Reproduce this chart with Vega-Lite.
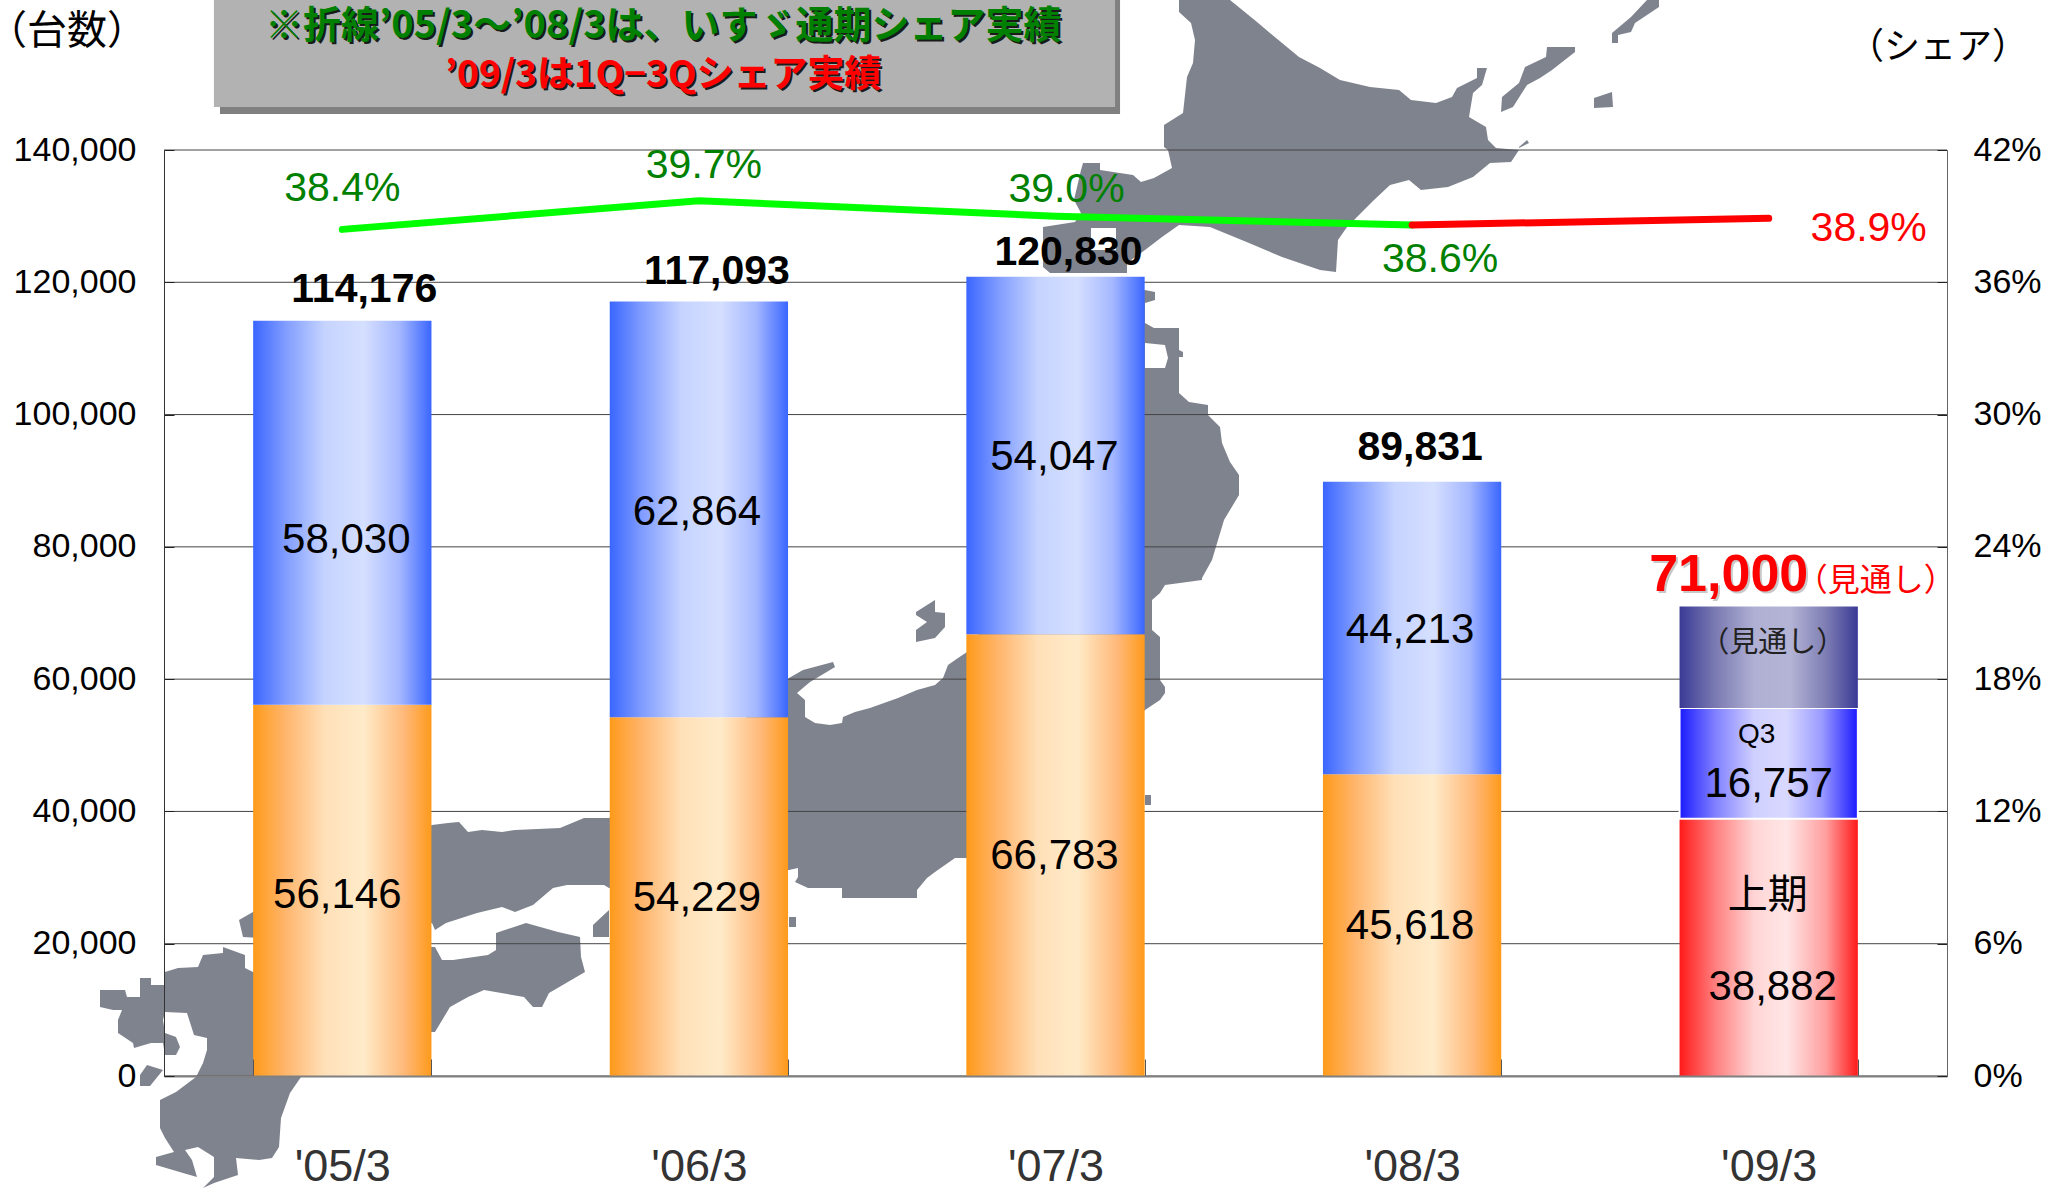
{
"$schema":"https://vega.github.io/schema/vega-lite/v6.json",
"width":1783,"height":926,"autosize":{"type":"none"},
"padding":{"left":164,"top":150,"right":115,"bottom":113},
"background":"#ffffff",
"config":{"view":{"stroke":null}},
"datasets":{
"rows":[
{"fy":2005,"period":"'05/3","segment":"上期","value":56146,"base":0,"top":56146},
{"fy":2005,"period":"'05/3","segment":"下期","value":58030,"base":56146,"top":114176},
{"fy":2005,"period":"'05/3","segment":"合計","value":114176,"base":0,"top":114176},
{"fy":2006,"period":"'06/3","segment":"上期","value":54229,"base":0,"top":54229},
{"fy":2006,"period":"'06/3","segment":"下期","value":62864,"base":54229,"top":117093},
{"fy":2006,"period":"'06/3","segment":"合計","value":117093,"base":0,"top":117093},
{"fy":2007,"period":"'07/3","segment":"上期","value":66783,"base":0,"top":66783},
{"fy":2007,"period":"'07/3","segment":"下期","value":54047,"base":66783,"top":120830},
{"fy":2007,"period":"'07/3","segment":"合計","value":120830,"base":0,"top":120830},
{"fy":2008,"period":"'08/3","segment":"上期","value":45618,"base":0,"top":45618},
{"fy":2008,"period":"'08/3","segment":"下期","value":44213,"base":45618,"top":89831},
{"fy":2008,"period":"'08/3","segment":"合計","value":89831,"base":0,"top":89831},
{"fy":2009,"period":"'09/3","segment":"上期09","value":38882,"base":0,"top":38882},
{"fy":2009,"period":"'09/3","segment":"Q3","value":16757,"base":38882,"top":55639},
{"fy":2009,"period":"'09/3","segment":"見通し","value":15361,"base":55639,"top":71000},
{"fy":2009,"period":"'09/3","segment":"合計","value":71000,"base":0,"top":71000}
],
"share":[
{"period":"'05/3","series":"通期","share":0.384},
{"period":"'06/3","series":"通期","share":0.397},
{"period":"'07/3","series":"通期","share":0.390},
{"period":"'08/3","series":"通期","share":0.386},
{"period":"'08/3","series":"1Q-3Q","share":0.386},
{"period":"'09/3","series":"1Q-3Q","share":0.389}
],
"grid":[{"v":0},{"v":20000},{"v":40000},{"v":60000},{"v":80000},{"v":100000},{"v":120000},{"v":140000}]
},
"layer":[
{"data":{"values":[
{"type":"Feature","properties":{"name":"北海道"},"geometry":{"type":"Polygon","coordinates":[[[1179,0],[1230,0],[1257,22],[1276,38],[1299,57],[1320,68],[1340,80],[1370,87],[1399,90],[1411,100],[1436,103],[1452,97],[1457,88],[1477,78],[1477,68],[1487,68],[1482,85],[1473,93],[1469,117],[1486,127],[1488,140],[1496,148],[1519,150],[1511,162],[1490,163],[1473,177],[1448,187],[1421,190],[1409,180],[1390,185],[1374,200],[1357,217],[1347,227],[1338,240],[1336,272],[1320,270],[1282,257],[1249,243],[1210,227],[1179,225],[1162,237],[1145,250],[1127,263],[1127,273],[1050,273],[1043,267],[1043,227],[1075,222],[1081,213],[1074,200],[1081,170],[1083,163],[1100,163],[1100,170],[1133,175],[1141,182],[1154,178],[1172,168],[1168,150],[1164,147],[1164,125],[1183,113],[1187,77],[1193,63],[1195,40],[1191,23],[1179,12],[1179,0]],[[1091,228],[1091,250],[1116,250],[1116,228],[1091,228]]]}},
{"type":"Feature","properties":{"name":"本州"},"geometry":{"type":"Polygon","coordinates":[[[1100,300],[1145,290],[1155,292],[1155,300],[1145,303],[1145,323],[1154,328],[1179,328],[1179,350],[1183,352],[1183,357],[1179,357],[1179,393],[1189,402],[1208,405],[1208,415],[1220,427],[1222,443],[1230,462],[1239,475],[1239,495],[1230,510],[1224,520],[1212,560],[1202,578],[1202,580],[1165,585],[1160,593],[1152,600],[1152,630],[1160,637],[1160,680],[1165,687],[1165,693],[1160,700],[1145,710],[1100,770],[967,858],[955,858],[935,872],[927,878],[917,890],[917,898],[842,898],[842,888],[808,888],[795,882],[798,877],[798,868],[789,870],[700,880],[609,888],[604,885],[567,885],[553,888],[533,905],[515,912],[502,907],[477,913],[446,923],[435,930],[432,923],[300,940],[243,937],[239,920],[253,912],[320,860],[432,825],[448,823],[459,822],[468,832],[482,830],[502,832],[515,830],[560,828],[584,818],[609,818],[700,760],[789,678],[803,670],[833,662],[835,667],[810,682],[797,693],[805,700],[805,717],[815,723],[830,725],[842,723],[843,717],[855,712],[870,708],[898,698],[917,690],[935,685],[943,678],[948,665],[958,658],[967,652],[1000,600],[1050,450],[1060,350],[1100,300]],[[1145,343],[1145,368],[1165,368],[1168,358],[1165,345],[1145,343]]]}},
{"type":"Feature","properties":{"name":"四国"},"geometry":{"type":"Polygon","coordinates":[[[496,933],[526,923],[558,932],[580,937],[581,957],[585,972],[549,993],[542,1007],[533,1007],[524,997],[484,990],[468,997],[450,1007],[435,1032],[420,1032],[420,947],[435,947],[442,960],[453,960],[488,955],[496,950],[496,933]]]}},
{"type":"Feature","properties":{"name":"九州"},"geometry":{"type":"Polygon","coordinates":[[[223,947],[245,955],[245,968],[253,972],[320,1000],[301,1077],[290,1093],[281,1118],[279,1147],[272,1158],[259,1160],[236,1158],[238,1175],[214,1183],[203,1188],[214,1177],[214,1157],[198,1147],[185,1150],[192,1160],[197,1177],[183,1173],[156,1165],[156,1157],[174,1152],[165,1138],[160,1128],[160,1100],[176,1092],[196,1077],[203,1063],[207,1050],[207,1038],[194,1035],[187,1013],[165,1012],[163,1020],[165,1033],[176,1037],[180,1047],[176,1055],[165,1055],[163,1043],[151,1043],[134,1048],[133,1043],[118,1033],[118,1020],[122,1010],[113,1010],[100,1007],[100,990],[125,990],[127,997],[140,997],[140,978],[151,978],[151,985],[165,985],[165,972],[178,968],[198,967],[203,955],[223,953],[223,947]]]}},
{"type":"Feature","properties":{"name":"天草"},"geometry":{"type":"Polygon","coordinates":[[[147,1065],[163,1070],[150,1086],[140,1086],[140,1075],[147,1065]]]}},
{"type":"Feature","properties":{"name":"淡路"},"geometry":{"type":"Polygon","coordinates":[[[593,925],[609,910],[609,937],[593,937],[593,925]]]}},
{"type":"Feature","properties":{"name":"佐渡"},"geometry":{"type":"Polygon","coordinates":[[[916,612],[935,600],[935,612],[945,613],[945,627],[935,638],[916,642],[916,630],[927,622],[916,615],[916,612]]]}},
{"type":"Feature","properties":{"name":"大島"},"geometry":{"type":"Polygon","coordinates":[[[1145,795],[1151,795],[1151,805],[1145,805],[1145,795]]]}},
{"type":"Feature","properties":{"name":"小島"},"geometry":{"type":"Polygon","coordinates":[[[789,917],[796,917],[796,927],[789,927],[789,917]]]}},
{"type":"Feature","properties":{"name":"国後"},"geometry":{"type":"Polygon","coordinates":[[[1502,97],[1519,83],[1525,67],[1546,57],[1547,47],[1575,47],[1575,52],[1552,70],[1540,78],[1527,85],[1513,107],[1501,112],[1502,97]]]}},
{"type":"Feature","properties":{"name":"色丹"},"geometry":{"type":"Polygon","coordinates":[[[1594,98],[1612,92],[1613,107],[1594,108],[1594,98]]]}},
{"type":"Feature","properties":{"name":"択捉"},"geometry":{"type":"Polygon","coordinates":[[[1612,33],[1631,17],[1647,0],[1659,0],[1659,7],[1635,23],[1631,32],[1618,35],[1618,43],[1612,43],[1612,33]]]}},
{"type":"Feature","properties":{"name":"歯舞"},"geometry":{"type":"Polygon","coordinates":[[[1519,147],[1527,140],[1529,143],[1519,148],[1519,147]]]}}
]},
"projection":{"type":"identity","scale":1,"translate":[-164,-150]},
"mark":{"type":"geoshape","fill":"#7e838e","stroke":null,"clip":false},
"encoding":{}},

{"data":{"name":"grid"},"mark":{"type":"rule","color":"#444444","strokeWidth":1},
"encoding":{"y":{"field":"v","type":"quantitative","scale":{"domain":[0,140000],"nice":false},
"axis":{"orient":"left","title":null,"grid":false,"values":[0,20000,40000,60000,80000,100000,120000,140000],"format":",d","labelFont":"Liberation Sans","labelFontSize":34,"labelColor":"#000000","labelPadding":38,"tickSize":-10,"tickColor":"#222222","domainColor":"#333333","zindex":1}}}},

{"data":{"name":"rows"},
"encoding":{
"x":{"field":"period","type":"nominal","sort":null,"scale":{"domain":["'05/3","'06/3","'07/3","'08/3","'09/3"],"paddingInner":0.5,"paddingOuter":0.25},
"axis":{"orient":"bottom","title":null,"labelAngle":0,"labelFont":"Liberation Sans","labelFontSize":45,"labelColor":"#333333","labelPadding":85,"tickBand":"extent","tickSize":-17,"tickColor":"#555555","domainColor":"#808080","domainWidth":2,"zindex":1}},
"y":{"field":"top","type":"quantitative","scale":{"domain":[0,140000],"nice":false},"axis":null}
},
"layer":[
{"transform":[{"filter":"datum.fy<2009&&datum.segment=='上期'"}],"mark":{"type":"bar","color":{"gradient":"linear","x1":0,"y1":0,"x2":1,"y2":0,"stops":[{"offset":0,"color":"#ff9a1a"},{"offset":0.18,"color":"#ffb56c"},{"offset":0.4,"color":"#ffe0b8"},{"offset":0.62,"color":"#ffebc9"},{"offset":0.85,"color":"#ffb878"},{"offset":1,"color":"#ff9a1a"}]}},"encoding":{"y2":{"field":"base"}}},
{"transform":[{"filter":"datum.segment=='下期'"}],"mark":{"type":"bar","color":{"gradient":"linear","x1":0,"y1":0,"x2":1,"y2":0,"stops":[{"offset":0,"color":"#3a66ff"},{"offset":0.18,"color":"#809cff"},{"offset":0.4,"color":"#c5d3ff"},{"offset":0.62,"color":"#d5dfff"},{"offset":0.82,"color":"#a5b8ff"},{"offset":1,"color":"#3a66ff"}]}},"encoding":{"y2":{"field":"base"}}},
{"transform":[{"filter":"datum.segment=='上期09'"}],"mark":{"type":"bar","color":{"gradient":"linear","x1":0,"y1":0,"x2":1,"y2":0,"stops":[{"offset":0,"color":"#ff1a1a"},{"offset":0.2,"color":"#ff7f7f"},{"offset":0.42,"color":"#ffd5d5"},{"offset":0.6,"color":"#ffe6e6"},{"offset":0.82,"color":"#ff9f9f"},{"offset":1,"color":"#ff1a1a"}]}},"encoding":{"y2":{"field":"base"}}},
{"transform":[{"filter":"datum.segment=='Q3'"}],"mark":{"type":"bar","stroke":"#ffffff","strokeWidth":2,"color":{"gradient":"linear","x1":0,"y1":0,"x2":1,"y2":0,"stops":[{"offset":0,"color":"#1a1aff"},{"offset":0.2,"color":"#8080ff"},{"offset":0.42,"color":"#d0d0ff"},{"offset":0.6,"color":"#d8d8ff"},{"offset":0.8,"color":"#9a9aff"},{"offset":1,"color":"#1a1aff"}]}},"encoding":{"y2":{"field":"base"}}},
{"transform":[{"filter":"datum.segment=='見通し'"}],"mark":{"type":"bar","color":{"gradient":"linear","x1":0,"y1":0,"x2":1,"y2":0,"stops":[{"offset":0,"color":"#3a3a96"},{"offset":0.2,"color":"#7a7ab2"},{"offset":0.42,"color":"#b0b0d4"},{"offset":0.62,"color":"#b4b4d6"},{"offset":0.82,"color":"#7e7eb4"},{"offset":1,"color":"#3a3a96"}]}},"encoding":{"y2":{"field":"base"}}},

{"transform":[{"filter":"datum.fy==2005&&datum.segment=='上期'"}],"mark":{"type":"text","font":"Liberation Sans","fontSize":42,"dx":-5,"dy":190},"encoding":{"text":{"field":"value","type":"quantitative","format":",d"}}},
{"transform":[{"filter":"datum.fy==2005&&datum.segment=='下期'"}],"mark":{"type":"text","font":"Liberation Sans","fontSize":42,"dx":4,"dy":219},"encoding":{"text":{"field":"value","type":"quantitative","format":",d"}}},
{"transform":[{"filter":"datum.fy==2006&&datum.segment=='上期'"}],"mark":{"type":"text","font":"Liberation Sans","fontSize":42,"dx":-2,"dy":181},"encoding":{"text":{"field":"value","type":"quantitative","format":",d"}}},
{"transform":[{"filter":"datum.fy==2006&&datum.segment=='下期'"}],"mark":{"type":"text","font":"Liberation Sans","fontSize":42,"dx":-2,"dy":210},"encoding":{"text":{"field":"value","type":"quantitative","format":",d"}}},
{"transform":[{"filter":"datum.fy==2007&&datum.segment=='上期'"}],"mark":{"type":"text","font":"Liberation Sans","fontSize":42,"dx":-1,"dy":222},"encoding":{"text":{"field":"value","type":"quantitative","format":",d"}}},
{"transform":[{"filter":"datum.fy==2007&&datum.segment=='下期'"}],"mark":{"type":"text","font":"Liberation Sans","fontSize":42,"dx":-1,"dy":180},"encoding":{"text":{"field":"value","type":"quantitative","format":",d"}}},
{"transform":[{"filter":"datum.fy==2008&&datum.segment=='上期'"}],"mark":{"type":"text","font":"Liberation Sans","fontSize":42,"dx":-2,"dy":152},"encoding":{"text":{"field":"value","type":"quantitative","format":",d"}}},
{"transform":[{"filter":"datum.fy==2008&&datum.segment=='下期'"}],"mark":{"type":"text","font":"Liberation Sans","fontSize":42,"dx":-2,"dy":148},"encoding":{"text":{"field":"value","type":"quantitative","format":",d"}}},
{"transform":[{"filter":"datum.segment=='Q3'"}],"mark":{"type":"text","font":"Liberation Sans","fontSize":42,"dy":76},"encoding":{"text":{"field":"value","type":"quantitative","format":",d"}}},
{"transform":[{"filter":"datum.segment=='上期09'"}],"mark":{"type":"text","font":"Liberation Sans","fontSize":42,"dx":4,"dy":168},"encoding":{"text":{"field":"value","type":"quantitative","format":",d"}}},
{"transform":[{"filter":"datum.segment=='上期09'"}],"mark":{"type":"text","font":"Noto Sans CJK JP","fontSize":40,"dx":-1,"dy":77},"encoding":{"text":{"value":"上期"}}},
{"transform":[{"filter":"datum.segment=='Q3'"}],"mark":{"type":"text","font":"Liberation Sans","fontSize":28,"dx":-12,"dy":27},"encoding":{"text":{"field":"segment"}}},
{"transform":[{"filter":"datum.segment=='見通し'"}],"mark":{"type":"text","font":"Noto Sans CJK JP","fontSize":29,"color":"#222222","dx":4,"dy":37},"encoding":{"text":{"value":"（見通し）"}}},

{"transform":[{"filter":"datum.fy==2005&&datum.segment=='合計'"}],"mark":{"type":"text","font":"Liberation Sans","fontWeight":"bold","fontSize":41,"dx":22,"dy":-31},"encoding":{"text":{"field":"value","type":"quantitative","format":",d"}}},
{"transform":[{"filter":"datum.fy==2006&&datum.segment=='合計'"}],"mark":{"type":"text","font":"Liberation Sans","fontWeight":"bold","fontSize":41,"dx":18,"dy":-30},"encoding":{"text":{"field":"value","type":"quantitative","format":",d"}}},
{"transform":[{"filter":"datum.fy==2007&&datum.segment=='合計'"}],"mark":{"type":"text","font":"Liberation Sans","fontWeight":"bold","fontSize":41,"dx":13,"dy":-24},"encoding":{"text":{"field":"value","type":"quantitative","format":",d"}}},
{"transform":[{"filter":"datum.fy==2008&&datum.segment=='合計'"}],"mark":{"type":"text","font":"Liberation Sans","fontWeight":"bold","fontSize":41,"dx":8,"dy":-34},"encoding":{"text":{"field":"value","type":"quantitative","format":",d"}}},
{"transform":[{"filter":"datum.fy==2009&&datum.segment=='合計'"}],"mark":{"type":"text","font":"Liberation Sans","fontWeight":"bold","fontSize":52,"color":"#c8c8c8","dx":-38,"dy":-29},"encoding":{"text":{"field":"value","type":"quantitative","format":",d"}}},
{"transform":[{"filter":"datum.fy==2009&&datum.segment=='合計'"}],"mark":{"type":"text","font":"Liberation Sans","fontWeight":"bold","fontSize":52,"color":"#ff0000","dx":-40,"dy":-31},"encoding":{"text":{"field":"value","type":"quantitative","format":",d"}}},
{"transform":[{"filter":"datum.fy==2009&&datum.segment=='合計'"}],"mark":{"type":"text","font":"Noto Sans CJK JP","fontSize":32,"color":"#ff0000","dx":107,"dy":-25},"encoding":{"text":{"value":"（見通し）"}}}
]},

{"data":{"name":"share"},
"encoding":{
"x":{"field":"period","type":"nominal","sort":null,"scale":{"domain":["'05/3","'06/3","'07/3","'08/3","'09/3"],"paddingInner":0.5,"paddingOuter":0.25},"axis":null},
"y":{"field":"share","type":"quantitative","scale":{"domain":[0,0.42],"nice":false},
"axis":{"orient":"right","title":null,"grid":false,"values":[0,0.06,0.12,0.18,0.24,0.30,0.36,0.42],"format":".0%","labelFont":"Liberation Sans","labelFontSize":34,"labelColor":"#000000","labelPadding":36,"tickSize":-10,"tickColor":"#222222","domainColor":"#666666","zindex":1}}
},
"layer":[
{"transform":[{"filter":"datum.series=='通期'"}],"mark":{"type":"line","color":"#00ff00","strokeWidth":7,"strokeCap":"round"}},
{"transform":[{"filter":"datum.series=='1Q-3Q'"}],"mark":{"type":"line","color":"#ff0000","strokeWidth":7,"strokeCap":"round"}},
{"transform":[{"filter":"datum.series=='通期'&&datum.period==\"'05/3\""}],"mark":{"type":"text","font":"Liberation Sans","fontSize":41,"color":"#008000","dy":-40},"encoding":{"text":{"field":"share","type":"quantitative","format":".1%"}}},
{"transform":[{"filter":"datum.series=='通期'&&datum.period==\"'06/3\""}],"mark":{"type":"text","font":"Liberation Sans","fontSize":41,"color":"#008000","dx":5,"dy":-35},"encoding":{"text":{"field":"share","type":"quantitative","format":".1%"}}},
{"transform":[{"filter":"datum.series=='通期'&&datum.period==\"'07/3\""}],"mark":{"type":"text","font":"Liberation Sans","fontSize":41,"color":"#008000","dx":11,"dy":-26},"encoding":{"text":{"field":"share","type":"quantitative","format":".1%"}}},
{"transform":[{"filter":"datum.series=='通期'&&datum.period==\"'08/3\""}],"mark":{"type":"text","font":"Liberation Sans","fontSize":41,"color":"#008000","dx":28,"dy":35},"encoding":{"text":{"field":"share","type":"quantitative","format":".1%"}}},
{"transform":[{"filter":"datum.period==\"'09/3\""}],"mark":{"type":"text","font":"Liberation Sans","fontSize":41,"color":"#ff0000","dx":100,"dy":11},"encoding":{"text":{"field":"share","type":"quantitative","format":".1%"}}}
]},

{"data":{"values":[{"note":"※折線’05/3～’08/3は、いすゞ通期シェア実績","note2":"’09/3は1Q−3Qシェア実績","leftUnit":"（台数）","rightUnit":"（シェア）"}]},
"layer":[
{"mark":{"type":"rect","color":"#808080"},"encoding":{"x":{"datum":0.157,"type":"quantitative","scale":{"domain":[0,5],"nice":false,"zero":false},"axis":null},"x2":{"datum":2.681},"y":{"datum":162700,"type":"quantitative","scale":{"domain":[0,140000],"nice":false},"axis":null},"y2":{"datum":145450}}},
{"mark":{"type":"rect","color":"#b2b2b2"},"encoding":{"x":{"datum":0.14,"type":"quantitative"},"x2":{"datum":2.667},"y":{"datum":162700,"type":"quantitative"},"y2":{"datum":146500}}},
{"mark":{"type":"text","font":"Noto Sans CJK JP","fontWeight":"bold","fontSize":38,"color":"#1a1a1a","dx":2,"dy":2},"encoding":{"x":{"datum":1.4,"type":"quantitative"},"y":{"datum":158600,"type":"quantitative"},"text":{"field":"note"}}},
{"mark":{"type":"text","font":"Noto Sans CJK JP","fontWeight":"bold","fontSize":38,"color":"#008000"},"encoding":{"x":{"datum":1.4,"type":"quantitative"},"y":{"datum":158600,"type":"quantitative"},"text":{"field":"note"}}},
{"mark":{"type":"text","font":"Noto Sans CJK JP","fontWeight":"bold","fontSize":37,"color":"#1a1a1a","dx":2,"dy":2},"encoding":{"x":{"datum":1.4,"type":"quantitative"},"y":{"datum":151200,"type":"quantitative"},"text":{"field":"note2"}}},
{"mark":{"type":"text","font":"Noto Sans CJK JP","fontWeight":"bold","fontSize":37,"color":"#ff0000"},"encoding":{"x":{"datum":1.4,"type":"quantitative"},"y":{"datum":151200,"type":"quantitative"},"text":{"field":"note2"}}},
{"mark":{"type":"text","font":"Noto Sans CJK JP","fontSize":40,"color":"#000000"},"encoding":{"x":{"datum":-0.272,"type":"quantitative"},"y":{"datum":157900,"type":"quantitative"},"text":{"field":"leftUnit"}}},
{"mark":{"type":"text","font":"Noto Sans CJK JP","fontSize":36,"color":"#000000"},"encoding":{"x":{"datum":4.975,"type":"quantitative"},"y":{"datum":155400,"type":"quantitative"},"text":{"field":"rightUnit"}}}
]}
],
"resolve":{"scale":{"x":"independent","y":"independent"}}
}
